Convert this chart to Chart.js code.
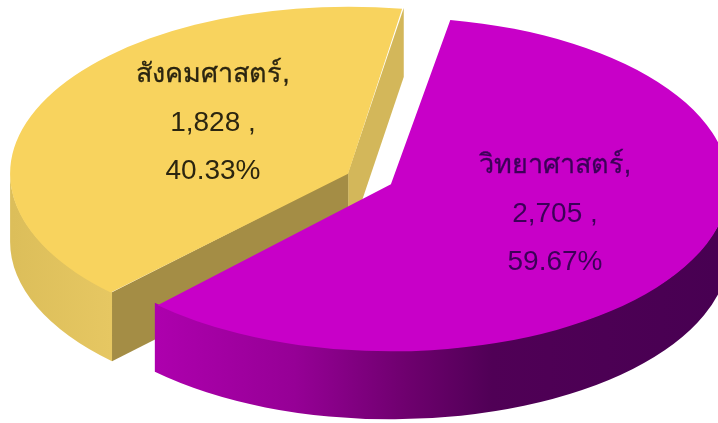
<!DOCTYPE html>
<html>
<head>
<meta charset="utf-8">
<style>
    html, body { margin: 0; padding: 0; background: #fff; overflow: hidden; }
    #wrap { width: 718px; height: 423px; }
</style>
<script src="https://cdn.jsdelivr.net/npm/chart.js@4/dist/chart.umd.min.js"></script>
</head>
<body>
<div id="wrap"><canvas id="pie" width="718" height="423"></canvas></div>
<script>
const categories = ['สังคมศาสตร์', 'วิทยาศาสตร์'];
const values = [1828, 2705];
const percents = ['40.33%', '59.67%'];

const topColors = ['#f8d35e', '#c800c8'];
const squash = 0.494;
const depth = 68;
const pieRadius = 338;

// centre of each slice after the explode offset, in screen pixels
// (ArcElement moves a slice by a quarter of its offset option)
function sliceCentre(arc) {
    const mid = (arc.startAngle + arc.endAngle) / 2;
    const moved = arc.options.offset / 4;
    return {
        x: arc.x + Math.cos(mid) * moved,
        y: arc.y + Math.sin(mid) * moved * squash
    };
}

function wallGradient(ctx, index) {
    const g = ctx.createLinearGradient(index === 0 ? 12 : 153, 0, index === 0 ? 111 : 718, 0);
    if (index === 0) {
        g.addColorStop(0, '#dcbe5a');
        g.addColorStop(1, '#e6c762');
    } else {
        g.addColorStop(0, '#ae00ae');
        g.addColorStop(0.25, '#960096');
        g.addColorStop(0.45, '#6e006e');
        g.addColorStop(0.6, '#500056');
        g.addColorStop(1, '#480052');
    }
    return g;
}

function drawWall(ctx, c, r, from, to, index) {
    ctx.beginPath();
    ctx.ellipse(c.x, c.y - 1, r, r * squash, 0, from, to);
    ctx.ellipse(c.x, c.y + depth, r, r * squash, 0, to, from, true);
    ctx.closePath();
    ctx.fillStyle = wallGradient(ctx, index);
    ctx.fill();
}

// the top edge starts 1px higher so the slice on top leaves no light seam
function drawFace(ctx, c, r, angle, color) {
    const px = c.x + Math.cos(angle) * r;
    const py = c.y + Math.sin(angle) * r * squash;
    ctx.beginPath();
    ctx.moveTo(c.x, c.y - 1);
    ctx.lineTo(px, py - 1);
    ctx.lineTo(px, py + depth);
    ctx.lineTo(c.x, c.y + depth);
    ctx.closePath();
    ctx.fillStyle = color;
    ctx.fill();
}

const pie3d = {
    id: 'pie3d',
    afterDatasetsUpdate(chart) {
        // ArcElement grows an offset slice depending on its sweep, undo that
        // so both slices end up the same size
        chart.getDatasetMeta(0).data.forEach(arc => {
            const fix = 1 - Math.sin(Math.min(Math.PI, arc.circumference));
            arc.outerRadius = pieRadius - arc.options.offset / 4 * fix;
        });
    },
    beforeDatasetsDraw(chart) {
        const ctx = chart.ctx;
        const arcs = chart.getDatasetMeta(0).data;

        ctx.save();
        arcs.forEach((arc, i) => {
            const c = sliceCentre(arc);
            const r = pieRadius;
            const s = arc.startAngle;
            const e = arc.endAngle;

            // end edge and start edge, only if they face the viewer
            if (Math.cos(e) > 0) drawFace(ctx, c, r, e, '#d3b75a');
            if (Math.cos(s) < 0) drawFace(ctx, c, r, s, '#a48d45');

            // outer wall: only the front half of the ellipse shows
            [0, Math.PI * 2].forEach(base => {
                const from = Math.max(s, base);
                const to = Math.min(e, base + Math.PI);
                if (to > from) drawWall(ctx, c, r, from, to, i);
            });
        });
        ctx.restore();

        // flatten the library's arcs into the ellipse of the top surface
        const cy = arcs[0].y;
        ctx.save();
        ctx.translate(0, cy);
        ctx.scale(1, squash);
        ctx.translate(0, -cy);
    },
    afterDatasetsDraw(chart) {
        const ctx = chart.ctx;
        ctx.restore();

        ctx.save();
        ctx.textAlign = 'center';
        ctx.textBaseline = 'middle';
        ctx.lineWidth = 0.3;
        const spots = [{ x: 213, y: 75, color: '#2b2510' }, { x: 555, y: 166, color: '#3c0058' }];
        categories.forEach((name, i) => {
            const lines = [name + ',', values[i].toLocaleString('en-US') + ' ,', percents[i]];
            ctx.fillStyle = spots[i].color;
            ctx.strokeStyle = spots[i].color;
            lines.forEach((line, n) => {
                ctx.font = (n === 0 ? 27 : 28) + 'px "Liberation Sans", "Noto Sans", sans-serif';
                const y = spots[i].y + n * 48;
                ctx.fillText(line, spots[i].x, y);
                if (n === 0) ctx.strokeText(line, spots[i].x, y);
            });
        });
        ctx.restore();
    }
};

new Chart(document.getElementById('pie'), {
    type: 'pie',
    data: {
        labels: categories,
        datasets: [{
            data: values,
            backgroundColor: topColors,
            borderWidth: 0,
            offset: 96,
            clip: false
        }]
    },
    options: {
        responsive: false,
        animation: false,
        radius: pieRadius,
        rotation: 224.3,
        layout: { padding: { left: 21, bottom: 65 } },
        plugins: {
            legend: { display: false },
            tooltip: { enabled: false }
        }
    },
    plugins: [pie3d]
});
</script>
</body>
</html>
